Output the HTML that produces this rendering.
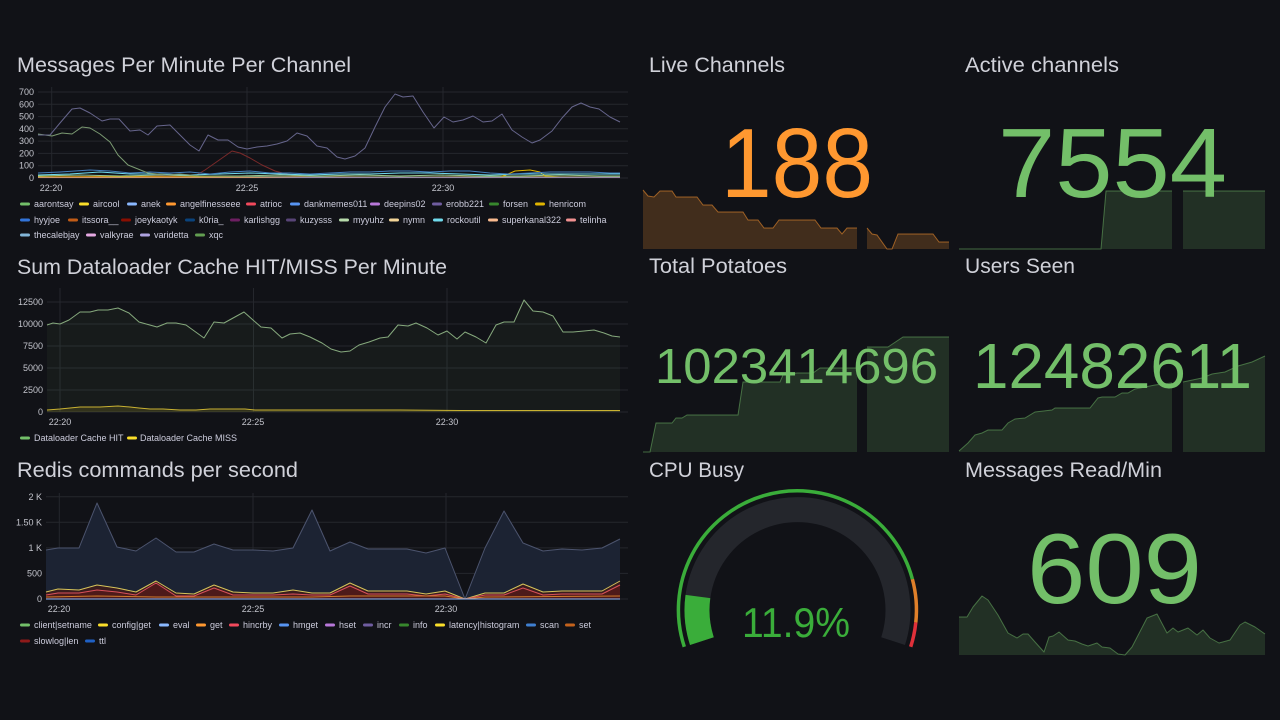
<!DOCTYPE html>
<html><head><meta charset="utf-8"><style>
html,body{margin:0;padding:0;background:#111217;}
svg{display:block;font-family:"Liberation Sans",Arial,sans-serif;}
.t{fill:#d0d1d9;font-size:21.5px;}
.ax{fill:#c3c4cc;font-size:9px;}
.lg{fill:#ccccdc;font-size:9px;}
.g{stroke:#25272d;stroke-width:1;}
</style></head><body>
<svg width="1280" height="720" viewBox="0 0 1280 720" xmlns="http://www.w3.org/2000/svg">
<rect width="1280" height="720" fill="#111217"/>

<!-- ===== Chart 1 ===== -->
<text class="t" x="17" y="72" textLength="334" lengthAdjust="spacingAndGlyphs">Messages Per Minute Per Channel</text>
<g class="g">
<line x1="38" y1="92" x2="628" y2="92"/><line x1="38" y1="104.3" x2="628" y2="104.3"/><line x1="38" y1="116.6" x2="628" y2="116.6"/><line x1="38" y1="128.8" x2="628" y2="128.8"/><line x1="38" y1="141.1" x2="628" y2="141.1"/><line x1="38" y1="153.4" x2="628" y2="153.4"/><line x1="38" y1="165.7" x2="628" y2="165.7"/><line x1="38" y1="178" x2="628" y2="178"/>
<line x1="51.7" y1="87" x2="51.7" y2="178"/><line x1="247" y1="87" x2="247" y2="178"/><line x1="443" y1="87" x2="443" y2="178"/>
</g>
<g class="ax" text-anchor="end">
<text x="34" y="95">700</text><text x="34" y="107.3">600</text><text x="34" y="119.6">500</text><text x="34" y="131.8">400</text><text x="34" y="144.1">300</text><text x="34" y="156.4">200</text><text x="34" y="168.7">100</text><text x="34" y="181">0</text>
</g>
<g class="ax" text-anchor="middle"><text x="51" y="191">22:20</text><text x="247" y="191">22:25</text><text x="443" y="191">22:30</text></g>
<g fill="none" stroke-width="1" stroke-linejoin="round">
<polyline stroke="#7a2a2a" points="38,177 195,176 205,170 215,163 225,156 232,151 240,153 250,158 262,165 275,171 290,175 300,177 620,177"/>
<polyline stroke="#c47a2a" points="38,177 120,176.5 200,177 300,176.5 400,177 500,176.5 620,177"/>
<polyline stroke="#b877d9" points="38,177.5 620,177.5"/>
<polyline stroke="#9ac48a" points="38,176 80,175 120,176 160,175 200,176 240,176 280,175 320,176 360,175 400,176 440,175 480,176 520,176 560,175 600,176 620,176"/>
<polyline stroke="#e0b400" points="38,177 500,177 508,174 515,171 530,170 540,172 545,176 560,177 620,177"/>
<polyline stroke="#70dbed" points="38,175 70,174 100,172 130,174 160,174 190,175 220,174 250,173 280,174 310,175 340,174 370,174 400,173 430,173 460,174 490,175 520,174 560,174 590,174 620,174"/>
<polyline stroke="#447ebc" points="38,173 60,172 90,170 110,171 130,173 150,172 170,173 190,172 210,174 230,172 250,171 270,173 290,173 310,174 330,173 350,172 370,172 390,171 410,171 430,172 450,171 470,171 490,173 510,174 530,173 550,172 570,172 590,172 610,173 620,173"/>
<polyline stroke="#7b9a72" points="38,134 52,136 62,133 72,134 82,127 90,128 100,134 110,142 118,155 128,165 138,169 148,173 157,174 167,175 180,174 200,176 300,177 620,177"/>
<polyline stroke="#66658c" points="38,135 50,135 60,123 72,109 80,108 90,113 102,121 110,119 119,119 130,131 140,130 148,135 157,126 170,125 180,135 190,145 199,151 208,135 218,140 228,140 238,147 247,149 257,147 267,146 277,144 287,141 297,133 307,136 317,146 327,148 337,157 345,159 355,156 365,148 375,127 385,107 395,94 403,97 413,96 423,112 434,128 444,117 453,122 463,120 473,116 483,122 492,121 502,114 512,130 522,137 532,143 540,140 552,131 562,118 572,107 581,103 590,107 599,109 610,117 620,122"/>
</g>
<!-- legend chart 1 -->
<g class="lg">
<rect x="20" y="202.5" width="10" height="3" rx="1.5" fill="#73bf69"/><text x="34" y="207">aarontsay</text>
<rect x="79" y="202.5" width="10" height="3" rx="1.5" fill="#fade2a"/><text x="93" y="207">aircool</text>
<rect x="127" y="202.5" width="10" height="3" rx="1.5" fill="#8ab8ff"/><text x="141" y="207">anek</text>
<rect x="166" y="202.5" width="10" height="3" rx="1.5" fill="#ff9830"/><text x="180" y="207">angelfinesseee</text>
<rect x="246" y="202.5" width="10" height="3" rx="1.5" fill="#f2495c"/><text x="260" y="207">atrioc</text>
<rect x="290" y="202.5" width="10" height="3" rx="1.5" fill="#5794f2"/><text x="304" y="207">dankmemes011</text>
<rect x="370" y="202.5" width="10" height="3" rx="1.5" fill="#b877d9"/><text x="384" y="207">deepins02</text>
<rect x="432" y="202.5" width="10" height="3" rx="1.5" fill="#705da0"/><text x="446" y="207">erobb221</text>
<rect x="489" y="202.5" width="10" height="3" rx="1.5" fill="#37872d"/><text x="503" y="207">forsen</text>
<rect x="535" y="202.5" width="10" height="3" rx="1.5" fill="#e0b400"/><text x="549" y="207">henricom</text>

<rect x="20" y="218.5" width="10" height="3" rx="1.5" fill="#3274d9"/><text x="34" y="223">hyyjoe</text>
<rect x="68" y="218.5" width="10" height="3" rx="1.5" fill="#c15c17"/><text x="82" y="223">itssora__</text>
<rect x="121" y="218.5" width="10" height="3" rx="1.5" fill="#890f02"/><text x="135" y="223">joeykaotyk</text>
<rect x="185" y="218.5" width="10" height="3" rx="1.5" fill="#0a437c"/><text x="199" y="223">k0ria_</text>
<rect x="230" y="218.5" width="10" height="3" rx="1.5" fill="#6d1f62"/><text x="244" y="223">karlishgg</text>
<rect x="286" y="218.5" width="10" height="3" rx="1.5" fill="#584477"/><text x="300" y="223">kuzysss</text>
<rect x="339" y="218.5" width="10" height="3" rx="1.5" fill="#b7dbab"/><text x="353" y="223">myyuhz</text>
<rect x="389" y="218.5" width="10" height="3" rx="1.5" fill="#f4d598"/><text x="403" y="223">nymn</text>
<rect x="433" y="218.5" width="10" height="3" rx="1.5" fill="#70dbed"/><text x="447" y="223">rockoutil</text>
<rect x="488" y="218.5" width="10" height="3" rx="1.5" fill="#f9ba8f"/><text x="502" y="223">superkanal322</text>
<rect x="566" y="218.5" width="10" height="3" rx="1.5" fill="#f29191"/><text x="580" y="223">telinha</text>

<rect x="20" y="233.5" width="10" height="3" rx="1.5" fill="#82b5d8"/><text x="34" y="238">thecalebjay</text>
<rect x="86" y="233.5" width="10" height="3" rx="1.5" fill="#e5a8e2"/><text x="100" y="238">valkyrae</text>
<rect x="140" y="233.5" width="10" height="3" rx="1.5" fill="#aea2e0"/><text x="154" y="238">varidetta</text>
<rect x="195" y="233.5" width="10" height="3" rx="1.5" fill="#629e51"/><text x="209" y="238">xqc</text>
</g>

<!-- ===== Chart 2 ===== -->
<text class="t" x="17" y="274" textLength="430" lengthAdjust="spacingAndGlyphs">Sum Dataloader Cache HIT/MISS Per Minute</text>
<g class="g">
<line x1="47" y1="302" x2="628" y2="302"/><line x1="47" y1="324" x2="628" y2="324"/><line x1="47" y1="346" x2="628" y2="346"/><line x1="47" y1="368" x2="628" y2="368"/><line x1="47" y1="390" x2="628" y2="390"/><line x1="47" y1="412" x2="628" y2="412"/>
<line x1="60" y1="288" x2="60" y2="412"/><line x1="253.5" y1="288" x2="253.5" y2="412"/><line x1="447" y1="288" x2="447" y2="412"/>
</g>
<g class="ax" text-anchor="end">
<text x="43" y="305">12500</text><text x="43" y="327">10000</text><text x="43" y="349">7500</text><text x="43" y="371">5000</text><text x="43" y="393">2500</text><text x="43" y="415">0</text>
</g>
<g class="ax" text-anchor="middle"><text x="60" y="425">22:20</text><text x="253" y="425">22:25</text><text x="447" y="425">22:30</text></g>
<polygon fill="#73bf69" fill-opacity="0.06" points="47,325 53,323 60,324 69,320 80,312 90,312 98,310 108,310 118,308 129,313 139,322 157,327 167,323 176,323 186,325 204,338 214,322 224,323 244,312 253,320 261,327 271,328 282,338 290,334 300,333 310,337 322,343 331,349 341,352 350,351 359,345 369,342 380,338 388,337 398,325 408,326 416,323 427,328 438,335 447,331 457,339 465,332 476,337 486,343 496,325 504,322 514,322 524,300 533,311 543,312 553,316 563,332 573,332 584,331 594,330 604,333 612,336 620,337 620,412 47,412"/>
<polyline fill="none" stroke="#86a97d" stroke-width="1" stroke-linejoin="round" points="47,325 53,323 60,324 69,320 80,312 90,312 98,310 108,310 118,308 129,313 139,322 157,327 167,323 176,323 186,325 204,338 214,322 224,323 244,312 253,320 261,327 271,328 282,338 290,334 300,333 310,337 322,343 331,349 341,352 350,351 359,345 369,342 380,338 388,337 398,325 408,326 416,323 427,328 438,335 447,331 457,339 465,332 476,337 486,343 496,325 504,322 514,322 524,300 533,311 543,312 553,316 563,332 573,332 584,331 594,330 604,333 612,336 620,337"/>
<polygon fill="#fade2a" fill-opacity="0.12" points="47,410 60,409 80,407 100,407 118,406 130,407 139,408 150,409 163,409 180,410 196,410 210,409 220,409 235,409 245,409 255,410 620,410.5 620,412 47,412"/>
<polyline fill="none" stroke="#c9b232" stroke-width="1" points="47,410 60,409 80,407 100,407 118,406 130,407 139,408 150,409 163,409 180,410 196,410 210,409 220,409 235,409 245,409 255,410 300,410 400,410 460,410.5 620,410.5"/>
<g class="lg">
<rect x="20" y="436.5" width="10" height="3" rx="1.5" fill="#73bf69"/><text x="34" y="441">Dataloader Cache HIT</text>
<rect x="127" y="436.5" width="10" height="3" rx="1.5" fill="#fade2a"/><text x="140" y="441">Dataloader Cache MISS</text>
</g>

<!-- ===== Chart 3 ===== -->
<text class="t" x="17" y="477" textLength="281" lengthAdjust="spacingAndGlyphs">Redis commands per second</text>
<g class="g">
<line x1="46" y1="496.7" x2="628" y2="496.7"/><line x1="46" y1="522.3" x2="628" y2="522.3"/><line x1="46" y1="547.9" x2="628" y2="547.9"/><line x1="46" y1="573.4" x2="628" y2="573.4"/><line x1="46" y1="599" x2="628" y2="599"/>
<line x1="59.3" y1="493" x2="59.3" y2="599"/><line x1="253" y1="493" x2="253" y2="599"/><line x1="446" y1="493" x2="446" y2="599"/>
</g>
<g class="ax" text-anchor="end">
<text x="42" y="500">2 K</text><text x="42" y="525.3">1.50 K</text><text x="42" y="551">1 K</text><text x="42" y="576.4">500</text><text x="42" y="602">0</text>
</g>
<g class="ax" text-anchor="middle"><text x="59" y="612">22:20</text><text x="253" y="612">22:25</text><text x="446" y="612">22:30</text></g>
<polygon fill="#1c2333" points="46,550 58,548 67,548 79,548 97,503 117,547 136,551 156,538 176,552 194,552 214,544 233,550 253,550 273,551 293,548 312,510 330,551 350,542 368,549 388,549 407,549 426,553 445,548 465,599 485,548 504,511 523,543 543,551 562,549 582,550 602,548 620,539 620,599 46,599"/>
<polyline fill="none" stroke="#4c546e" stroke-width="1" stroke-linejoin="round" points="46,550 58,548 67,548 79,548 97,503 117,547 136,551 156,538 176,552 194,552 214,544 233,550 253,550 273,551 293,548 312,510 330,551 350,542 368,549 388,549 407,549 426,553 445,548 465,599 485,548 504,511 523,543 543,551 562,549 582,550 602,548 620,539"/>
<polygon fill="#3a1c1e" points="46,592 58,589 79,590 97,585 117,588 136,592 156,581 176,593 194,594 214,585 233,592 253,593 273,593 293,590 312,593 330,593 350,583 368,591 388,591 407,591 426,594 445,591 465,599 485,593 504,593 523,584 543,592 562,591 582,591 602,591 620,581 620,599 46,599"/>
<polygon fill="#4d1a1a" points="46,595 58,593 79,593 97,590 117,592 136,595 156,583 176,596 194,596 214,588 233,595 253,595 273,595 293,594 312,595 330,595 350,586 368,594 388,594 407,594 426,596 445,594 465,599 485,595 504,595 523,588 543,595 562,594 582,594 602,594 620,585 620,599 46,599"/>
<polyline fill="none" stroke="#d6c45a" stroke-width="1" stroke-linejoin="round" points="46,592 58,589 79,590 97,585 117,588 136,592 156,581 176,593 194,594 214,585 233,592 253,593 273,593 293,590 312,593 330,593 350,583 368,591 388,591 407,591 426,594 445,591 465,599 485,593 504,593 523,584 543,592 562,591 582,591 602,591 620,581"/>
<polyline fill="none" stroke="#d8505a" stroke-width="1" stroke-linejoin="round" points="46,595 58,593 79,593 97,590 117,592 136,595 156,583 176,596 194,596 214,588 233,595 253,595 273,595 293,594 312,595 330,595 350,586 368,594 388,594 407,594 426,596 445,594 465,599 485,595 504,595 523,588 543,595 562,594 582,594 602,594 620,585"/>
<polyline fill="none" stroke="#d07a2c" stroke-width="1" points="46,597 97,596 156,597 214,597 312,597 350,596 445,596 465,599 485,597 620,596"/>
<polyline fill="none" stroke="#8ab8ff" stroke-width="1" points="46,599 620,599"/>
<g class="lg">
<rect x="20" y="623.5" width="10" height="3" rx="1.5" fill="#73bf69"/><text x="34" y="628">client|setname</text>
<rect x="98" y="623.5" width="10" height="3" rx="1.5" fill="#fade2a"/><text x="112" y="628">config|get</text>
<rect x="159" y="623.5" width="10" height="3" rx="1.5" fill="#8ab8ff"/><text x="173" y="628">eval</text>
<rect x="196" y="623.5" width="10" height="3" rx="1.5" fill="#ff9830"/><text x="210" y="628">get</text>
<rect x="229" y="623.5" width="10" height="3" rx="1.5" fill="#f2495c"/><text x="243" y="628">hincrby</text>
<rect x="279" y="623.5" width="10" height="3" rx="1.5" fill="#5794f2"/><text x="293" y="628">hmget</text>
<rect x="325" y="623.5" width="10" height="3" rx="1.5" fill="#b877d9"/><text x="339" y="628">hset</text>
<rect x="363" y="623.5" width="10" height="3" rx="1.5" fill="#705da0"/><text x="377" y="628">incr</text>
<rect x="399" y="623.5" width="10" height="3" rx="1.5" fill="#37872d"/><text x="413" y="628">info</text>
<rect x="435" y="623.5" width="10" height="3" rx="1.5" fill="#fade2a"/><text x="449" y="628">latency|histogram</text>
<rect x="526" y="623.5" width="10" height="3" rx="1.5" fill="#3f7fd0"/><text x="540" y="628">scan</text>
<rect x="565" y="623.5" width="10" height="3" rx="1.5" fill="#c4621c"/><text x="579" y="628">set</text>
<rect x="20" y="639.5" width="10" height="3" rx="1.5" fill="#8f1a1a"/><text x="34" y="644">slowlog|len</text>
<rect x="85" y="639.5" width="10" height="3" rx="1.5" fill="#1f60c4"/><text x="99" y="644">ttl</text>
</g>

<!-- ===== Live Channels ===== -->
<text class="t" x="649" y="72" textLength="136" lengthAdjust="spacingAndGlyphs">Live Channels</text>
<polygon fill="#412d1c" points="643,190 648,196 654,197 660,191 672,191 676,197 697,197 703,205 712,205 718,212 743,212 748,220 758,220 764,228 773,228 779,220 815,220 821,228 837,228 842,234 847,228 857,228 857,249 643,249"/>
<polyline fill="none" stroke="#ff9830" stroke-opacity="0.55" stroke-width="1" points="643,190 648,196 654,197 660,191 672,191 676,197 697,197 703,205 712,205 718,212 743,212 748,220 758,220 764,228 773,228 779,220 815,220 821,228 837,228 842,234 847,228 857,228"/>
<polygon fill="#412d1c" points="867,228 872,234 877,235 887,249 892,249 898,234 933,234 939,242 949,242 949,249 867,249"/>
<polyline fill="none" stroke="#ff9830" stroke-opacity="0.55" stroke-width="1" points="867,228 872,234 877,235 887,249 892,249 898,234 933,234 939,242 949,242"/>
<text x="721" y="197" fill="#ff9830" font-size="98" textLength="152" lengthAdjust="spacingAndGlyphs">188</text>

<!-- ===== Active channels ===== -->
<text class="t" x="965" y="72" textLength="154" lengthAdjust="spacingAndGlyphs">Active channels</text>
<polygon fill="#73bf69" fill-opacity="0.18" points="1101,249 1106,191 1172,191 1172,249"/>
<polygon fill="#73bf69" fill-opacity="0.18" points="1183,191 1265,191 1265,249 1183,249"/>
<polyline fill="none" stroke="#73bf69" stroke-opacity="0.5" stroke-width="1" points="959,249 1101,249 1106,191 1172,191"/>
<polyline fill="none" stroke="#73bf69" stroke-opacity="0.5" stroke-width="1" points="1183,191 1265,191"/>
<text x="998" y="197" fill="#73bf69" font-size="98" textLength="229" lengthAdjust="spacingAndGlyphs">7554</text>

<!-- ===== Total Potatoes ===== -->
<text class="t" x="649" y="273" textLength="138" lengthAdjust="spacingAndGlyphs">Total Potatoes</text>
<polygon fill="#73bf69" fill-opacity="0.18" points="643,452 650,452 656,423 672,423 676,418 682,418 687,415 738,415 743,382 780,382 783,375 797,373 813,373 820,368 857,368 857,452"/>
<polyline fill="none" stroke="#73bf69" stroke-opacity="0.5" stroke-width="1" points="643,452 650,452 656,423 672,423 676,418 682,418 687,415 738,415 743,382 780,382 783,375 797,373 813,373 820,368 857,368"/>
<polygon fill="#73bf69" fill-opacity="0.18" points="867,347 888,347 903,337 949,337 949,452 867,452"/>
<polyline fill="none" stroke="#73bf69" stroke-opacity="0.5" stroke-width="1" points="867,347 888,347 903,337 949,337"/>
<text x="655" y="383" fill="#73bf69" font-size="49" textLength="283" lengthAdjust="spacingAndGlyphs">1023414696</text>

<!-- ===== Users Seen ===== -->
<text class="t" x="965" y="273" textLength="110" lengthAdjust="spacingAndGlyphs">Users Seen</text>
<polygon fill="#73bf69" fill-opacity="0.18" points="959,451 968,443 975,435 982,433 988,430 1002,430 1008,423 1015,419 1025,418 1035,412 1052,410 1055,408 1090,408 1098,398 1102,397 1115,397 1122,393 1128,393 1135,389 1155,385 1172,383 1172,452 959,452"/>
<polyline fill="none" stroke="#73bf69" stroke-opacity="0.5" stroke-width="1" points="959,451 968,443 975,435 982,433 988,430 1002,430 1008,423 1015,419 1025,418 1035,412 1052,410 1055,408 1090,408 1098,398 1102,397 1115,397 1122,393 1128,393 1135,389 1155,385 1172,383"/>
<polygon fill="#73bf69" fill-opacity="0.18" points="1183,382 1202,378 1212,374 1225,372 1238,366 1252,362 1265,356 1265,452 1183,452"/>
<polyline fill="none" stroke="#73bf69" stroke-opacity="0.5" stroke-width="1" points="1183,382 1202,378 1212,374 1225,372 1238,366 1252,362 1265,356"/>
<text x="973" y="388" fill="#73bf69" font-size="64" textLength="279" lengthAdjust="spacingAndGlyphs">12482611</text>

<!-- ===== CPU Busy ===== -->
<text class="t" x="649" y="477" textLength="95" lengthAdjust="spacingAndGlyphs">CPU Busy</text>
<path d="M 701.9 641.1 A 100.5 100.5 0 1 1 893.1 641.1" fill="none" stroke="#24262c" stroke-width="25"/>
<path d="M 701.9 641.1 A 100.5 100.5 0 0 1 697.9 596.5" fill="none" stroke="#3aad3a" stroke-width="25"/>
<path d="M 684.3 646.8 A 119 119 0 1 1 912.4 579.2" fill="none" stroke="#3aad3a" stroke-width="3.5"/>
<path d="M 912.4 579.2 A 119 119 0 0 1 915.8 622.4" fill="none" stroke="#e0802a" stroke-width="3.5"/>
<path d="M 915.8 622.4 A 119 119 0 0 1 910.7 646.8" fill="none" stroke="#e0303a" stroke-width="3.5"/>
<text x="742" y="637" fill="#3aad3a" font-size="42" textLength="108" lengthAdjust="spacingAndGlyphs">11.9%</text>

<!-- ===== Messages Read/Min ===== -->
<text class="t" x="965" y="477" textLength="197" lengthAdjust="spacingAndGlyphs">Messages Read/Min</text>
<polygon fill="#73bf69" fill-opacity="0.18" points="959,617 967,617 973,607 982,596 988,600 998,615 1008,633 1017,638 1023,634 1028,634 1035,642 1044,652 1049,637 1053,636 1059,632 1068,640 1075,641 1082,644 1088,646 1097,643 1102,647 1110,648 1118,654 1125,655 1132,647 1147,618 1157,614 1167,633 1173,628 1178,632 1188,628 1197,635 1203,630 1210,638 1219,643 1230,640 1240,625 1245,622 1255,627 1265,634 1265,655 959,655"/>
<polyline fill="none" stroke="#73bf69" stroke-opacity="0.5" stroke-width="1" stroke-linejoin="round" points="959,617 967,617 973,607 982,596 988,600 998,615 1008,633 1017,638 1023,634 1028,634 1035,642 1044,652 1049,637 1053,636 1059,632 1068,640 1075,641 1082,644 1088,646 1097,643 1102,647 1110,648 1118,654 1125,655 1132,647 1147,618 1157,614 1167,633 1173,628 1178,632 1188,628 1197,635 1203,630 1210,638 1219,643 1230,640 1240,625 1245,622 1255,627 1265,634"/>
<text x="1027" y="603" fill="#73bf69" font-size="99" textLength="175" lengthAdjust="spacingAndGlyphs">609</text>
</svg>
</body></html>
